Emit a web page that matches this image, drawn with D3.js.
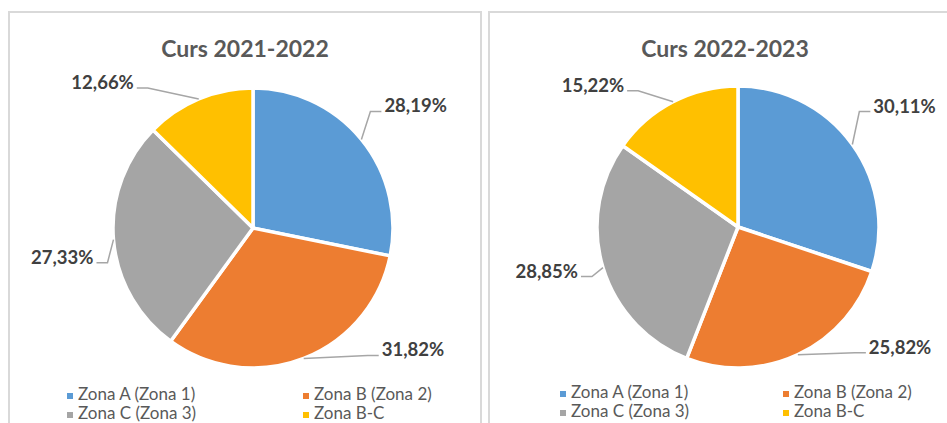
<!DOCTYPE html>
<html>
<head>
<meta charset="utf-8">
<script src="https://cdn.jsdelivr.net/npm/d3@7"></script>
<style>
  html, body { margin: 0; padding: 0; background: #fff; }
  svg { display: block; font-family: Lato, "Open Sans", sans-serif; }
</style>
</head>
<body>
<svg id="chart" width="947" height="423"></svg>
<script>
// Dades de les dues gràfiques
const zones = ["Zona A (Zona 1)", "Zona B (Zona 2)", "Zona C (Zona 3)", "Zona B-C"];
const zoneColors = ["#5B9BD5", "#ED7D31", "#A5A5A5", "#FFC000"];
const titles = ["Curs 2021-2022", "Curs 2022-2023"];
const values2122 = [28.19, 31.82, 27.33, 12.66];
const values2223 = [30.11, 25.82, 28.85, 15.22];

// Disposició de cada panell (posicions, no dades)
const panels = [
    {
        title: titles[0], values: values2122,
        x: 9, cx: 253, cy: 228, r: 140,
        legendX: [67, 303], legendY: [400, 419],
        labelOffsets: [[20, -28], [75, -3], [-17, 23], [-62, -11]]
    },
    {
        title: titles[1], values: values2223,
        x: 489, cx: 738, cy: 227, r: 141,
        legendX: [560, 783], legendY: [398, 417],
        labelOffsets: [[18, -33], [68, -2], [-22, 9], [-46, -11]]
    }
];

const fmt = d3.format(".2f");
const pctLabel = v => fmt(v).replace(".", ",") + "%";

const svg = d3.select("#chart");

function drawPanel(p) {
    // Marc del panell
    svg.append("rect")
        .attr("x", p.x)
        .attr("y", 12)
        .attr("width", 472)
        .attr("height", 500)
        .attr("fill", "#fff")
        .attr("stroke", "#d9d9d9")
        .attr("stroke-width", 2);

    // Títol
    svg.append("text")
        .attr("x", p.x + 236)
        .attr("y", 57)
        .attr("text-anchor", "middle")
        .attr("font-size", "23px")
        .attr("font-weight", "bold")
        .attr("fill", "#595959")
        .text(p.title);

    const pie = d3.pie().sort(null).value(d => d);
    const arcs = pie(p.values);
    const arc = d3.arc().innerRadius(0).outerRadius(p.r);

    const g = svg.append("g")
        .attr("transform", `translate(${p.cx},${p.cy})`);

    g.selectAll(".slice")
        .data(arcs)
        .enter()
        .append("path")
        .attr("class", "slice")
        .attr("d", arc)
        .attr("fill", (d, i) => zoneColors[i])
        .attr("stroke", "#fff")
        .attr("stroke-width", 3.5)
        .attr("stroke-linejoin", "round");

    // Etiquetes amb línies guia
    arcs.forEach((d, i) => {
        const mid = (d.startAngle + d.endAngle) / 2;
        const sx = Math.sin(mid) * p.r;
        const sy = -Math.cos(mid) * p.r;
        const off = p.labelOffsets[i];
        const lx = sx + off[0];
        const ly = sy + off[1];
        const side = off[0] >= 0 ? 1 : -1;
        const ex = lx - side * 11;

        g.append("polyline")
            .attr("points", `${sx},${sy} ${ex},${ly} ${lx},${ly}`)
            .attr("fill", "none")
            .attr("stroke", "#a6a6a6")
            .attr("stroke-width", 1.5);

        g.append("text")
            .attr("x", lx + side * 3)
            .attr("y", ly + 1)
            .attr("text-anchor", side > 0 ? "start" : "end")
            .attr("font-size", "18.5px")
            .attr("font-weight", "bold")
            .attr("fill", "#404040")
            .text(pctLabel(d.data));
    });

    // Llegenda (2 columnes x 2 files)
    zones.forEach((z, i) => {
        const lx = p.legendX[i % 2];
        const ly = p.legendY[Math.floor(i / 2)];
        svg.append("rect")
            .attr("x", lx)
            .attr("y", ly - 7)
            .attr("width", 6)
            .attr("height", 6)
            .attr("fill", zoneColors[i]);
        svg.append("text")
            .attr("x", lx + 11)
            .attr("y", ly)
            .attr("font-size", "17px")
            .attr("fill", "#595959")
            .text(z);
    });
}

panels.forEach(drawPanel);
</script>
</body>
</html>
